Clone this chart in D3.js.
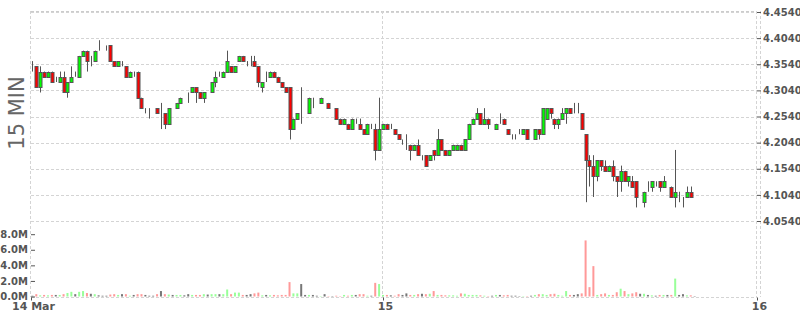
<!DOCTYPE html>
<html><head><meta charset="utf-8">
<script src="https://cdn.jsdelivr.net/npm/d3@7"></script>
<style>body{margin:0;background:#fff}svg{display:block}</style>
</head><body><svg id="c" width="800" height="315"></svg>
<script>
// [open, high, low, close] — 15 minute bars, 14–15 Mar
const ohlc = [
[4.35,4.36,4.34,4.35],[4.35,4.35,4.31,4.31],[4.31,4.35,4.30,4.34],[4.34,4.34,4.33,4.33],[4.33,4.34,4.33,4.34],
[4.34,4.34,4.32,4.32],[4.32,4.33,4.32,4.32],[4.32,4.34,4.32,4.33],[4.33,4.34,4.30,4.30],[4.30,4.32,4.29,4.32],
[4.32,4.35,4.32,4.33],[4.33,4.34,4.33,4.33],[4.33,4.37,4.33,4.37],[4.37,4.38,4.37,4.38],[4.38,4.38,4.34,4.36],
[4.36,4.37,4.35,4.36],[4.36,4.38,4.36,4.38],[4.38,4.40,4.38,4.38],[4.38,4.38,4.38,4.38],[4.39,4.39,4.38,4.39],
[4.39,4.39,4.36,4.36],[4.36,4.36,4.35,4.35],[4.35,4.36,4.35,4.36],[4.35,4.36,4.35,4.35],[4.35,4.35,4.33,4.33],
[4.33,4.34,4.33,4.34],[4.34,4.34,4.33,4.34],[4.34,4.34,4.29,4.29],[4.29,4.29,4.27,4.27],[4.27,4.27,4.26,4.27],
[4.27,4.27,4.25,4.27],[4.27,4.27,4.27,4.27],[4.27,4.27,4.26,4.26],[4.26,4.28,4.23,4.26],[4.26,4.26,4.23,4.24],
[4.24,4.27,4.24,4.27],[4.26,4.26,4.26,4.26],[4.27,4.28,4.27,4.28],[4.28,4.29,4.28,4.29],[4.29,4.29,4.29,4.29],
[4.29,4.30,4.28,4.29],[4.30,4.31,4.30,4.31],[4.31,4.31,4.28,4.30],[4.30,4.30,4.29,4.29],[4.29,4.30,4.28,4.30],
[4.30,4.30,4.30,4.30],[4.30,4.32,4.30,4.32],[4.32,4.34,4.31,4.33],[4.33,4.34,4.33,4.33],[4.33,4.34,4.33,4.34],
[4.34,4.38,4.34,4.36],[4.35,4.35,4.34,4.34],[4.34,4.35,4.34,4.35],[4.36,4.37,4.36,4.37],[4.37,4.37,4.36,4.36],
[4.36,4.36,4.35,4.36],[4.36,4.37,4.35,4.36],[4.36,4.37,4.35,4.35],[4.35,4.35,4.31,4.32],[4.31,4.32,4.30,4.32],
[4.33,4.34,4.32,4.33],[4.33,4.34,4.33,4.34],[4.34,4.34,4.33,4.33],[4.33,4.33,4.32,4.32],[4.32,4.32,4.31,4.31],
[4.31,4.31,4.30,4.30],[4.31,4.31,4.21,4.23],[4.23,4.25,4.23,4.25],[4.25,4.26,4.25,4.26],[4.26,4.31,4.24,4.26],
[4.26,4.26,4.26,4.26],[4.26,4.29,4.26,4.29],[4.28,4.29,4.27,4.28],[4.28,4.28,4.28,4.28],[4.28,4.29,4.28,4.29],
[4.28,4.28,4.28,4.28],[4.28,4.28,4.27,4.27],[4.27,4.27,4.27,4.27],[4.27,4.27,4.25,4.25],[4.25,4.25,4.24,4.24],
[4.24,4.25,4.24,4.25],[4.24,4.24,4.23,4.23],[4.23,4.25,4.23,4.25],[4.25,4.25,4.24,4.25],[4.24,4.25,4.23,4.23],
[4.23,4.23,4.22,4.22],[4.22,4.24,4.22,4.24],[4.24,4.24,4.23,4.24],[4.23,4.24,4.17,4.19],[4.19,4.29,4.19,4.23],
[4.23,4.24,4.23,4.24],[4.24,4.24,4.23,4.23],[4.23,4.24,4.23,4.23],[4.23,4.23,4.22,4.22],[4.22,4.22,4.21,4.21],
[4.20,4.21,4.20,4.20],[4.20,4.22,4.19,4.20],[4.20,4.20,4.17,4.19],[4.19,4.20,4.19,4.20],[4.20,4.21,4.18,4.18],
[4.18,4.18,4.17,4.18],[4.18,4.18,4.16,4.16],[4.17,4.18,4.17,4.18],[4.19,4.19,4.17,4.18],[4.18,4.23,4.18,4.21],
[4.21,4.21,4.19,4.19],[4.19,4.19,4.18,4.18],[4.18,4.19,4.18,4.19],[4.19,4.20,4.19,4.20],[4.19,4.20,4.19,4.20],
[4.20,4.20,4.19,4.19],[4.19,4.21,4.19,4.21],[4.21,4.24,4.21,4.24],[4.24,4.25,4.24,4.25],[4.25,4.27,4.25,4.26],
[4.26,4.26,4.24,4.24],[4.24,4.27,4.24,4.25],[4.25,4.25,4.23,4.24],[4.25,4.25,4.25,4.25],[4.23,4.24,4.23,4.24],
[4.25,4.26,4.24,4.25],[4.25,4.25,4.24,4.24],[4.23,4.23,4.22,4.22],[4.22,4.22,4.21,4.22],[4.22,4.22,4.21,4.22],
[4.22,4.23,4.22,4.22],[4.22,4.23,4.22,4.23],[4.23,4.23,4.21,4.21],[4.21,4.21,4.21,4.21],[4.21,4.23,4.21,4.23],
[4.23,4.23,4.21,4.22],[4.22,4.27,4.22,4.27],[4.25,4.27,4.25,4.27],[4.27,4.27,4.25,4.26],[4.25,4.25,4.23,4.24],
[4.24,4.25,4.23,4.25],[4.25,4.27,4.25,4.26],[4.26,4.27,4.24,4.27],[4.27,4.27,4.26,4.26],[4.26,4.28,4.26,4.26],
[4.26,4.28,4.26,4.26],[4.26,4.26,4.23,4.23],[4.22,4.22,4.09,4.17],[4.17,4.18,4.12,4.16],[4.16,4.18,4.10,4.14],
[4.14,4.17,4.13,4.17],[4.17,4.17,4.15,4.16],[4.16,4.17,4.15,4.15],[4.15,4.16,4.15,4.16],[4.16,4.17,4.13,4.14],
[4.14,4.14,4.10,4.13],[4.13,4.16,4.11,4.15],[4.15,4.15,4.13,4.13],[4.13,4.14,4.12,4.14],[4.13,4.14,4.12,4.12],
[4.13,4.13,4.08,4.10],[4.09,4.09,4.09,4.09],[4.09,4.11,4.08,4.11],[4.11,4.13,4.11,4.11],[4.12,4.13,4.11,4.13],
[4.13,4.13,4.12,4.13],[4.13,4.13,4.11,4.12],[4.12,4.14,4.12,4.13],[4.13,4.13,4.13,4.13],[4.12,4.12,4.10,4.10],
[4.10,4.19,4.08,4.11],[4.10,4.11,4.09,4.10],[4.10,4.10,4.08,4.10],[4.10,4.12,4.10,4.11],[4.11,4.12,4.10,4.10],
[4.11,4.11,4.11,4.11]
];
// volume in millions
const volume = [
0.1,0.3,0.15,0.2,0.15,0.2,0.2,0.2,0.3,0.45,
0.6,0.3,0.6,0.7,0.45,0.35,0.3,0.15,0.1,0.1,
0.25,0.3,0.2,0.3,0.3,0.1,0.2,0.3,0.3,0.2,
0.1,0.1,0.3,0.7,0.3,0.25,0.2,0.2,0.2,0.15,
0.3,0.2,0.2,0.2,0.3,0.25,0.3,0.3,0.3,0.3,
0.9,0.3,0.5,0.5,0.2,0.2,0.3,0.4,0.5,0.15,
0.2,0.15,0.2,0.15,0.2,0.2,1.85,0.4,0.4,1.6,
0.2,0.2,0.2,0.1,0.05,0.3,0.05,0.05,0.1,0.05,
0.2,0.1,0.2,0.2,0.3,0.3,0.1,0.1,1.75,1.6,
0.2,0.2,0.15,0.1,0.3,0.2,0.4,0.2,0.2,0.3,
0.35,0.3,0.35,0.7,0.2,0.2,0.15,0.15,0.15,0.1,
0.4,0.35,0.2,0.2,0.2,0.15,0.1,0.05,0.1,0.2,
0.2,0.15,0.2,0.1,0.1,0.05,0.05,0.05,0.1,0.2,
0.3,0.3,0.2,0.3,0.35,0.2,0.1,0.7,0.2,0.2,
0.3,0.4,7.2,1.2,3.9,0.2,0.3,0.4,0.2,0.2,
0.55,1.0,0.7,0.3,0.4,0.55,0.35,0.35,0.2,0.15,
0.1,0.2,0.2,0.2,0.2,2.3,0.2,0.3,0.15,0.15,
0.05
];
const firstBar = new Date(2024, 2, 14, 1, 30);
const barMinutes = 15;
const priceTicks = [4.054, 4.104, 4.154, 4.204, 4.254, 4.304, 4.354, 4.404, 4.454];
const volumeTicks = [0, 2, 4, 6, 8];
const dateTicks = [new Date(2024, 2, 14, 1, 24, 36), new Date(2024, 2, 15), new Date(2024, 2, 16)];
const dateLabels = ["14 Mar", "15", "16"];
const periodLabel = "15 MIN";

const data = ohlc.map((d, i) => ({
  t: new Date(firstBar.getTime() + i * barMinutes * 60000),
  o: d[0], h: d[1], l: d[2], c: d[3], v: volume[i]
}));

const L = 31, R = 760, gridR = 757;
const svg = d3.select("#c");
const x = d3.scaleTime().domain([dateTicks[0], new Date(2024, 2, 16, 0, 11, 33)]).range([L, R]);
const y = d3.scaleLinear().domain([4.0368, 4.454]).range([230, 12]);
const yv = d3.scaleLinear().domain([0, 8]).range([296.5, 234.2]);
const grid = "#d4d4d4", ink = "#555";
const font = "'DejaVu Sans', Verdana, sans-serif";
const cr = v => Math.round(v) + 0.5;

const g = svg.append("g");
g.selectAll("line.hg").data(priceTicks).join("line")
  .attr("x1", L).attr("x2", gridR)
  .attr("y1", d => cr(y(d))).attr("y2", d => cr(y(d)))
  .attr("stroke", grid).attr("stroke-dasharray", "3,2");
g.append("line").attr("x1", L).attr("x2", gridR).attr("y1", 11.5).attr("y2", 11.5)
  .attr("stroke", "#ccc").attr("stroke-dasharray", "3,2");
g.append("line").attr("x1", L).attr("x2", gridR).attr("y1", cr(yv(0))).attr("y2", cr(yv(0)))
  .attr("stroke", grid).attr("stroke-dasharray", "3,2");
g.selectAll("line.vg").data(dateTicks).join("line")
  .attr("x1", d => cr(x(d)) - 1).attr("x2", d => cr(x(d)) - 1)
  .attr("y1", 11).attr("y2", 297)
  .attr("stroke", grid).attr("stroke-dasharray", "3,2");
g.append("line").attr("x1", R + 0.5).attr("x2", R + 0.5).attr("y1", 11).attr("y2", 297)
  .attr("stroke", grid).attr("stroke-dasharray", "3,2");

const ay = svg.append("g").attr("transform", `translate(${gridR},0)`)
  .call(d3.axisRight(y).tickValues(priceTicks).tickFormat(d3.format(".4f")).tickSize(4).tickPadding(2));
ay.select(".domain").remove();
ay.selectAll("line").attr("stroke", ink);
ay.selectAll("text").attr("fill", ink).attr("font-family", font).attr("font-size", 10).attr("font-weight", "bold");

const av = svg.append("g").attr("transform", `translate(${L},0)`)
  .call(d3.axisRight(yv).tickValues(volumeTicks).tickFormat(d => d3.format(".1f")(d) + "M").tickSize(4).tickPadding(0));
av.select(".domain").remove();
av.selectAll("line").attr("stroke", ink);
av.selectAll("text").attr("fill", ink).attr("font-family", font).attr("font-size", 10).attr("font-weight", "bold")
  .attr("text-anchor", "end").attr("x", -3);

const ax = svg.append("g").attr("transform", `translate(0,${cr(yv(0))})`)
  .call(d3.axisBottom(x).tickValues(dateTicks).tickFormat((d, i) => dateLabels[i]).tickSize(3).tickPadding(2));
ax.select(".domain").remove();
ax.selectAll("line").attr("stroke", ink);
ax.selectAll("text").attr("fill", ink).attr("font-family", font).attr("font-size", 11).attr("font-weight", "bold").attr("dx", 2);

svg.append("text").attr("transform", "translate(24,113) rotate(-90)")
  .attr("text-anchor", "middle").attr("font-family", font).attr("font-size", 21)
  .attr("fill", "#666").text(periodLabel);

const vcol = d => d.c > d.o ? "#99ff99" : d.c < d.o ? "#ff9999" : "#777";
svg.append("g").selectAll("rect").data(data).join("rect")
  .attr("x", d => x(d.t) - 1).attr("width", 2)
  .attr("y", d => yv(d.v)).attr("height", d => yv(0) - yv(d.v))
  .attr("fill", vcol);

const cg = svg.append("g");
cg.selectAll("line").data(data).join("line")
  .attr("x1", d => Math.round(x(d.t)) + 0.5).attr("x2", d => Math.round(x(d.t)) + 0.5)
  .attr("y1", d => y(d.h)).attr("y2", d => y(d.l))
  .attr("stroke", ink).attr("stroke-width", 1);
cg.selectAll("rect").data(data).join("rect")
  .attr("x", d => Math.round(x(d.t)) - 1).attr("width", 3)
  .attr("y", d => Math.round(y(Math.max(d.o, d.c))) + 0.5)
  .attr("height", d => Math.round(y(Math.min(d.o, d.c))) - Math.round(y(Math.max(d.o, d.c))))
  .attr("fill", d => d.c > d.o ? "#00ff00" : d.c < d.o ? "#ff0000" : "none")
  .attr("stroke", ink).attr("stroke-width", 1);
</script></body></html>
